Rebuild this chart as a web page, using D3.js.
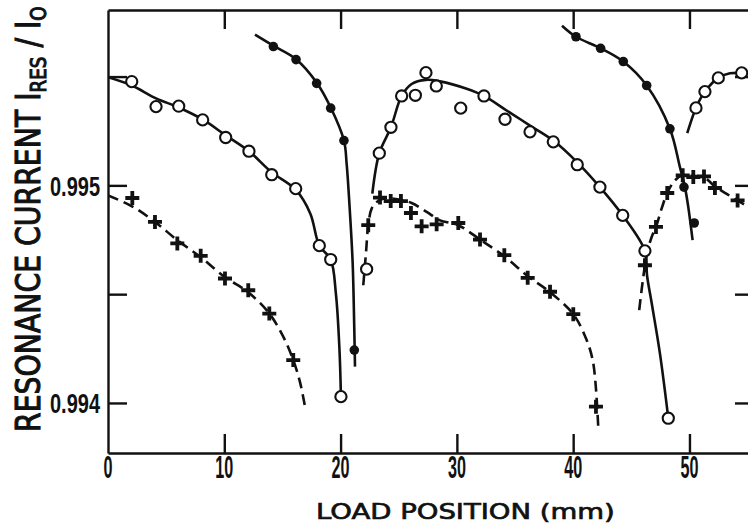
<!DOCTYPE html>
<html>
<head>
<meta charset="utf-8">
<script src="https://cdn.jsdelivr.net/npm/d3@7"></script>
<style>
  html, body { margin: 0; padding: 0; background: #fff; }
  svg { display: block; }
</style>
</head>
<body>
<div id="chart"></div>
<script>
// ---------------- DATA ----------------
// x = load position (mm), y = resonance current I_RES / I_0

const xTickValues = [10, 20, 30, 40, 50];
const xTickLabels = ["0", "10", "20", "30", "40", "50"];
const xLabelPositions = [0, 10, 20, 30, 40, 50];
const yTickValues = [0.994, 0.9945, 0.995, 0.9955];
const yTickLabels = ["0.994", "0.995"];
const yLabelPositions = [0.994, 0.995];

// open circles (measured points)
const openPoints = [
  [2.04,0.995477],[4.13,0.995362],[6.08,0.995364],[8.14,0.995301],[10.12,0.995220],
  [12.12,0.995157],[14.08,0.995049],[16.14,0.994985],[18.17,0.994723],[19.15,0.994659],
  [20.03,0.994029],[22.24,0.994615],[23.33,0.995148],[24.33,0.995267],[25.25,0.995411],
  [26.43,0.995414],[27.34,0.995518],[28.23,0.995457],[30.33,0.995355],[32.33,0.995411],
  [34.14,0.995304],[36.29,0.995246],[38.29,0.995200],[40.35,0.995095],[42.30,0.994992],
  [44.26,0.994862],[46.17,0.994699],[48.18,0.993930],[50.56,0.995356],[51.33,0.995431],
  [52.48,0.995494],[54.49,0.995517]
];
// filled circles
const filledPoints = [
  [14.22,0.995638],[16.17,0.995578],[17.94,0.995469],[19.15,0.995355],[20.29,0.995206],
  [21.18,0.994243],[40.24,0.995683],[42.36,0.995630],[44.31,0.995569],[46.32,0.995459],
  [48.32,0.995260],[49.53,0.994992],[50.41,0.994827]
];
// crosses
const crossPoints = [
  [2.09,0.994942],[4.04,0.994832],[5.96,0.994733],[7.97,0.994676],[10.06,0.994572],
  [12.06,0.994518],[13.87,0.994411],[15.93,0.994197],
  [22.38,0.994817],[23.39,0.994944],[24.31,0.994928],[25.19,0.994928],[26.05,0.994873],
  [26.97,0.994812],[28.26,0.994821],[30.12,0.994827],[31.99,0.994751],[34.08,0.994679],
  [36.09,0.994575],[38.01,0.994511],[40.01,0.994408],[41.96,0.993983],
  [46.17,0.994633],[47.12,0.994809],[48.09,0.994965],[49.42,0.995046],[50.33,0.995038],
  [51.25,0.995041],[52.19,0.994988],[54.14,0.994931]
];

// fitted curves
const openCurve1 = [
  [0,0.995497],[2.04,0.995459],[4.13,0.995400],[6.08,0.995358],[8.14,0.995303],
  [10.12,0.995230],[12.12,0.995157],[14.08,0.995060],[16.14,0.994980],[17.4,0.994870],
  [18.17,0.994723],[19.15,0.994659],[19.6,0.994500],[19.9,0.994250],[20.03,0.994029]
];
const openCurve2 = [
  [22.73,0.994962],[23.33,0.995148],[24.33,0.995267],[25.25,0.995411],[26.11,0.995466],
  [27.34,0.995485],[28.55,0.995478],[30.84,0.995444],[32.33,0.995411],[34.28,0.995344],
  [36.29,0.995275],[38.29,0.995206],[40.35,0.995106],[42.30,0.994992],[44.26,0.994862],
  [46.17,0.994699],[46.35,0.994587],[46.78,0.994450],[47.46,0.994228],[48.18,0.993930]
];
const openCurve3 = [
  [49.81,0.995240],[50.56,0.995356],[51.33,0.995431],[52.48,0.995494],[53.48,0.995515],
  [54.49,0.995517],[55.55,0.995518]
];
const filledCurve1 = [
  [12.64,0.995693],[14.21,0.995642],[16.17,0.995580],[17.95,0.995472],[19.15,0.995358],
  [20.29,0.995206],[20.52,0.995100],[20.81,0.994870],[21.04,0.994641],[21.18,0.994335],
  [21.24,0.994167]
];
const filledCurve2 = [
  [39.04,0.995734],[40.24,0.995683],[42.36,0.995630],[44.31,0.995569],[46.32,0.995459],
  [48.32,0.995260],[49.18,0.995084],[49.61,0.994992],[49.90,0.994900],[50.27,0.994748]
];
const crossCurve1 = [
  [0,0.994954],[2.06,0.994904],[4.04,0.994832],[5.96,0.994748],[7.97,0.994670],
  [10.06,0.994578],[12.06,0.994509],[13.87,0.994411],[15.05,0.994307],[15.93,0.994197],
  [16.51,0.994096],[16.94,0.993983]
];
const crossCurve2 = [
  [21.95,0.994541],[22.18,0.994687],[22.38,0.994817],[22.67,0.994893],[23.10,0.994923],
  [23.67,0.994939],[25.11,0.994934],[26.11,0.994919],[27.40,0.994878],[28.55,0.994839],
  [30.12,0.994817],[31.99,0.994751],[34.08,0.994674],[36.09,0.994583],[38.01,0.994509],
  [40.01,0.994408],[41.16,0.994289],[41.73,0.994182],[42.16,0.993884]
];
const crossCurve3 = [
  [45.68,0.994427],[46.03,0.994579],[46.35,0.994688],[46.75,0.994763],[47.12,0.994809],
  [47.64,0.994899],[48.09,0.994965],[48.75,0.995023],[49.42,0.995046],[50.33,0.995044],
  [51.25,0.995037],[52.19,0.994995],[53.13,0.994963],[54.14,0.994931],[55.55,0.994885]
];

// ---------------- DRAWING ----------------
const W = 748, H = 527;
const svg = d3.select("#chart").append("svg").attr("width", W).attr("height", H);

const x = d3.scaleLinear().domain([0, 55.55]).range([108, 754]);
const y = d3.scaleLinear().domain([0.99377, 0.995806]).range([453, 10]);

const ink = "#111";
const TICK = 19;

function styleAxis(g) {
  g.selectAll("path, line").attr("stroke", ink).attr("stroke-width", 2.4);
  g.selectAll("text").remove();
}
svg.append("g").attr("transform", `translate(0,${y.range()[0]})`)
  .call(d3.axisBottom(x).tickValues(xTickValues).tickSize(-TICK).tickSizeOuter(0)).call(styleAxis);
svg.append("g").attr("transform", `translate(0,${y.range()[1]})`)
  .call(d3.axisTop(x).tickValues(xTickValues).tickSize(-TICK).tickSizeOuter(0)).call(styleAxis);
svg.append("g").attr("transform", `translate(${x.range()[0]},0)`)
  .call(d3.axisLeft(y).tickValues(yTickValues).tickSize(-TICK).tickSizeOuter(0)).call(styleAxis);
svg.append("g").attr("transform", `translate(${x.range()[1]},0)`)
  .call(d3.axisRight(y).tickValues(yTickValues).tickSize(-TICK).tickSizeOuter(0)).call(styleAxis);

// tick labels (condensed tall digits)
const labelFont = "'Liberation Sans', Arial, sans-serif";
svg.append("g").selectAll("g").data(xTickLabels).join("g")
  .attr("transform", (d, i) => `translate(${x(xLabelPositions[i])},478) scale(1,1.62)`)
  .append("text")
  .attr("text-anchor", "middle")
  .style("font-family", labelFont).style("font-weight", "bold").style("font-size", "19px")
  .attr("fill", ink)
  .attr("textLength", d => d.length * 9)
  .attr("lengthAdjust", "spacingAndGlyphs")
  .text(d => d);

svg.append("g").selectAll("g").data(yTickLabels).join("g")
  .attr("transform", (d, i) => `translate(100,${y(yLabelPositions[i]) + 10.5}) scale(1,1.5)`)
  .append("text")
  .attr("text-anchor", "end")
  .style("font-family", labelFont).style("font-weight", "bold").style("font-size", "19px")
  .attr("fill", ink)
  .attr("textLength", 50)
  .attr("lengthAdjust", "spacingAndGlyphs")
  .text(d => d);

// axis titles
const titleFont = "'DejaVu Sans', Verdana, sans-serif";
const xt = svg.append("text")
  .attr("text-anchor", "start")
  .style("font-family", titleFont).style("font-size", "22px")
  .attr("fill", ink).attr("stroke", ink).attr("stroke-width", 0.7)
  .text("LOAD  POSITION (mm)");
{
  const len = xt.node().getComputedTextLength();
  xt.attr("transform", `translate(316,519) scale(${299 / len},1)`);
}

const yt = svg.append("text")
  .style("font-family", titleFont).style("font-size", "34px")
  .attr("fill", ink).attr("stroke", ink).attr("stroke-width", 1.1);
yt.append("tspan").text("RESONANCE  CURRENT  I");
yt.append("tspan").attr("dy", 6).style("font-size", "22px").text("RES");
yt.append("tspan").attr("dy", -6).text(" / I");
yt.append("tspan").attr("dy", 6).style("font-size", "22px").text("O");
{
  const len = yt.node().getComputedTextLength();
  yt.attr("transform", `translate(40,432) rotate(-90) scale(${426 / len},1)`);
}

// clip to plot area
svg.append("clipPath").attr("id", "plotclip").append("rect")
  .attr("x", 108).attr("y", 10).attr("width", 646).attr("height", 443);
const plot = svg.append("g").attr("clip-path", "url(#plotclip)");

const line = d3.line().x(d => x(d[0])).y(d => y(d[1])).curve(d3.curveCatmullRom.alpha(0.5));

[openCurve1, openCurve2, openCurve3, filledCurve1, filledCurve2].forEach(c => {
  plot.append("path").datum(c).attr("d", line)
    .attr("fill", "none").attr("stroke", ink).attr("stroke-width", 2.6);
});
[crossCurve1, crossCurve2, crossCurve3].forEach(c => {
  plot.append("path").datum(c).attr("d", line)
    .attr("fill", "none").attr("stroke", ink).attr("stroke-width", 2.6)
    .attr("stroke-dasharray", "11,6");
});

// markers
plot.append("g").selectAll("circle").data(openPoints).join("circle")
  .attr("cx", d => x(d[0])).attr("cy", d => y(d[1])).attr("r", 5.6)
  .attr("fill", "#fff").attr("stroke", ink).attr("stroke-width", 2.1);
plot.append("g").selectAll("circle").data(filledPoints).join("circle")
  .attr("cx", d => x(d[0])).attr("cy", d => y(d[1])).attr("r", 4.8)
  .attr("fill", ink);
plot.append("g").selectAll("path").data(crossPoints).join("path")
  .attr("transform", d => `translate(${x(d[0])},${y(d[1])})`)
  .attr("d", "M-7,0H7M0,-7V7")
  .attr("stroke", ink).attr("stroke-width", 3.8).attr("fill", "none");
</script>
</body>
</html>
